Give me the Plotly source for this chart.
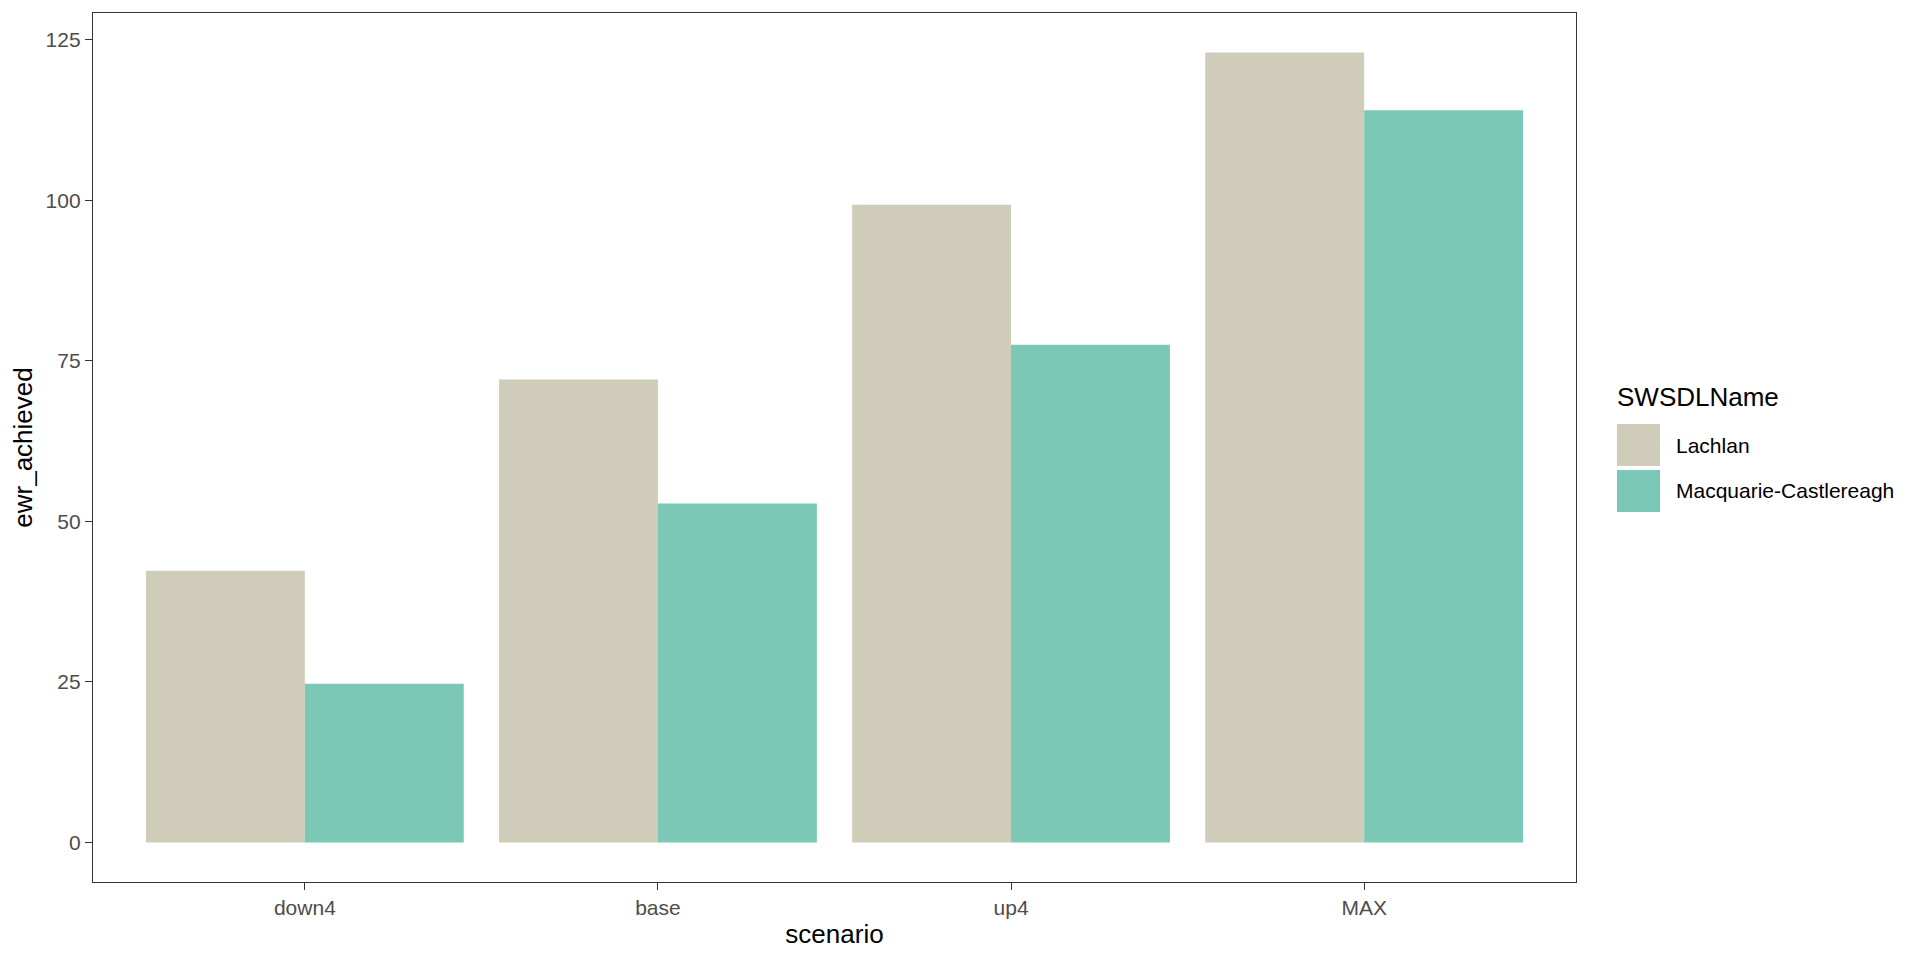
import plotly.graph_objects as go

scenarios = ["down4", "base", "up4", "MAX"]
series_names = ["Lachlan", "Macquarie-Castlereagh"]
lachlan = [42.3, 72.1, 99.3, 123.0]
macquarie = [24.7, 52.8, 77.5, 114.0]
colors = ["#CFCDB9", "#7BC8B7"]
y_ticks = [0, 25, 50, 75, 100, 125]

# page body has an 8px default margin; work in page pixels and shift by OFF
OFF = 8
W, H = 1920 - 2 * OFF, 960 - 2 * OFF
L, R, T, B = 93 - OFF, 1576 - OFF, 13 - OFF, 882 - OFF
FONT = "Liberation Sans, Arial, sans-serif"

fig = go.Figure()
for name, vals, col in zip(series_names, [lachlan, macquarie], colors):
    fig.add_trace(go.Bar(x=scenarios, y=vals, name=name, marker_color=col,
                         marker_line_width=0, showlegend=False))

ymax = max(max(lachlan), max(macquarie))
pad = ymax * 0.05

def px(x):
    return (x - OFF - L) / (R - L)

def py(y):
    return (B - (y - OFF)) / (B - T)

shapes = []
annotations = []
annotations.append(dict(x=px(1615), y=py(397), xref="paper", yref="paper",
                        text="SWSDLName", showarrow=False, xanchor="left", yanchor="middle",
                        font=dict(family=FONT, size=26, color="black")))
key_tops = [424, 470]
for name, col, top in zip(series_names, colors, key_tops):
    shapes.append(dict(type="rect", xref="paper", yref="paper",
                       x0=px(1617), x1=px(1660), y0=py(top + 42), y1=py(top),
                       fillcolor=col, line=dict(width=0)))
    annotations.append(dict(x=px(1674), y=py(top + 21), xref="paper", yref="paper",
                            text=name, showarrow=False, xanchor="left", yanchor="middle",
                            font=dict(family=FONT, size=21, color="black")))

fig.update_layout(
    width=W, height=H,
    margin=dict(l=L, r=W - R, t=T, b=H - B, autoexpand=False),
    paper_bgcolor="white", plot_bgcolor="white",
    barmode="group", bargap=0.1, bargroupgap=0,
    shapes=shapes, annotations=annotations,
    font=dict(family=FONT),
    xaxis=dict(
        type="category", range=[-0.6, 3.6],
        showgrid=False, zeroline=False,
        showline=True, mirror=True, linecolor="#333333", linewidth=1.4,
        ticks="outside", ticklen=7, tickwidth=1.4, tickcolor="#333333",
        tickfont=dict(family=FONT, size=21, color="#4D4D4D"),
        title=dict(text="scenario", font=dict(family=FONT, size=26, color="black"), standoff=6),
    ),
    yaxis=dict(
        range=[-pad, ymax + pad],
        tickvals=y_ticks,
        showgrid=False, zeroline=False,
        showline=True, mirror=True, linecolor="#333333", linewidth=1.4,
        ticks="outside", ticklen=7, tickwidth=1.4, tickcolor="#333333",
        tickfont=dict(family=FONT, size=21, color="#4D4D4D"),
        title=dict(text="ewr_achieved", font=dict(family=FONT, size=26, color="black"), standoff=10),
    ),
)

fig.write_html("out.html")
